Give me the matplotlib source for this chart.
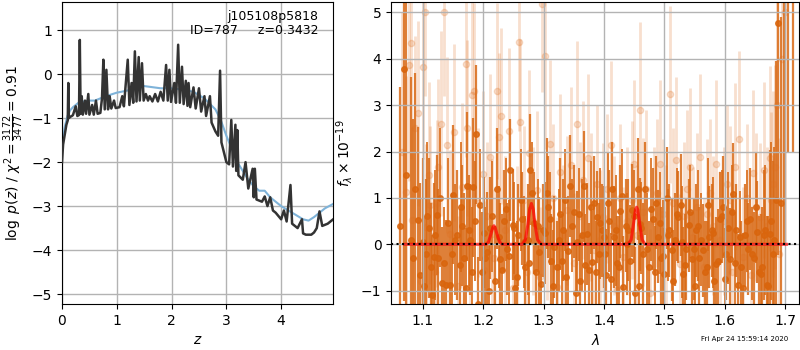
import matplotlib
matplotlib.use('Agg')
import matplotlib.pyplot as plt
import numpy as np

# ---- left panel: log p(z) and chi2 curve ----
z_pz = [0.0, 0.02, 0.04, 0.06, 0.08, 0.105, 0.115, 0.125, 0.15, 0.18, 0.2, 0.25, 0.28, 0.31, 0.325, 0.34,
        0.36, 0.38, 0.42, 0.44, 0.48, 0.5, 0.55, 0.58, 0.62, 0.65, 0.7, 0.73, 0.755, 0.78, 0.81, 0.84,
        0.87, 0.9, 0.95, 0.98, 1.05, 1.1, 1.13, 1.2, 1.23, 1.27, 1.3, 1.33, 1.36, 1.4, 1.42, 1.46,
        1.49, 1.53, 1.57, 1.6, 1.65, 1.7, 1.75, 1.8, 1.85, 1.9, 1.93, 1.96, 1.99, 2.05, 2.08, 2.12,
        2.15, 2.19, 2.22, 2.26, 2.29, 2.31, 2.34, 2.4, 2.44, 2.5, 2.54, 2.6, 2.63, 2.7, 2.73, 2.8,
        2.85, 2.885, 2.91, 2.95, 3.0, 3.05, 3.09, 3.12, 3.165, 3.18, 3.2, 3.22, 3.3, 3.35, 3.4, 3.48,
        3.5, 3.52, 3.55, 3.65, 3.7, 3.75, 3.8, 3.85, 3.9, 4.0, 4.05, 4.1, 4.17, 4.2, 4.3, 4.38,
        4.4, 4.45, 4.55, 4.6, 4.65, 4.7, 4.75, 4.85, 4.95]
log_pz = [-2.0, -1.6, -1.45, -1.3, -1.15, -1.05, -0.2, -1.0, -0.97, -0.95, -0.93, -0.73, -0.95, -0.93, 0.78, -0.9,
          -0.5, -0.92, -0.6, -0.9, -0.45, -0.92, -0.7, -0.92, -0.6, -0.9, -0.88, -0.55, 0.33, -0.8, 0.1, -0.8,
          -0.5, -0.78, -0.6, -0.77, -0.75, -0.5, -0.73, 0.33, -0.7, -0.2, -0.65, 0.52, -0.62, 0.39, -0.6, 0.25,
          -0.6, -0.45, -0.6, -0.5, -0.62, -0.45, -0.62, -0.4, -0.6, 0.21, -0.6, 0.1, -0.63, -0.2, -0.65, 0.67,
          -0.65, 0.17, -0.68, -0.15, -0.72, -0.2, -0.75, -0.3, -0.78, -0.32, -0.85, -0.5, -0.95, -0.5, -1.1, -1.3,
          -1.4, 0.08, -1.55, -1.75, -2.0, -2.05, -1.04, -2.1, -1.15, -2.2, -1.27, -2.3, -2.4, -2.0, -2.6, -2.15,
          -2.8, -2.15, -2.85, -2.9, -2.78, -3.0, -2.8, -3.1, -3.15, -3.3, -3.1, -3.35, -2.52, -3.4, -3.5, -3.3,
          -3.62, -3.65, -3.65, -3.6, -3.5, -3.12, -3.45, -3.4, -3.3]

z_chi = [0.02, 0.05, 0.1, 0.15, 0.2, 0.3, 0.4, 0.5, 0.6, 0.7, 0.8, 1.0, 1.2, 1.5, 1.8, 2.0, 2.2, 2.4, 2.6,
         2.8, 2.9, 3.0, 3.1, 3.2, 3.3, 3.4, 3.5, 3.6, 3.7, 3.8, 4.0, 4.2, 4.4, 4.5, 4.6, 4.8, 4.95]
chi_curve = [-1.45, -1.2, -0.95, -0.82, -0.75, -0.65, -0.62, -0.6, -0.6, -0.55, -0.5, -0.42, -0.37, -0.27, -0.32,
             -0.32, -0.35, -0.4, -0.55, -0.8, -1.05, -1.4, -1.7, -2.0, -2.2, -2.4, -2.55, -2.65, -2.65, -2.8,
             -3.0, -3.15, -3.3, -3.33, -3.25, -3.05, -2.95]

# ---- right panel: spectrum ----
dark_lam = [1.063, 1.0697, 1.073, 1.080, 1.084, 1.088, 1.092, 1.095, 1.100, 1.105,
            1.110, 1.114, 1.118, 1.124, 1.126, 1.132, 1.139, 1.145, 1.151, 1.157,
            1.161, 1.165, 1.169, 1.173, 1.178, 1.183, 1.188, 1.192, 1.198, 1.202,
            1.206, 1.212, 1.219, 1.223, 1.228, 1.235, 1.240, 1.245, 1.249, 1.253,
            1.258, 1.265, 1.270, 1.274, 1.278, 1.284, 1.288, 1.293, 1.299, 1.305,
            1.308, 1.313, 1.318, 1.322, 1.328, 1.333, 1.338, 1.344, 1.350, 1.355,
            1.361, 1.367, 1.372, 1.376, 1.380, 1.384, 1.388, 1.392, 1.396, 1.400,
            1.404, 1.409, 1.414, 1.417, 1.422, 1.427, 1.432, 1.436, 1.440, 1.446,
            1.452, 1.456, 1.460, 1.464, 1.468, 1.474, 1.481, 1.486, 1.490, 1.495,
            1.500, 1.504, 1.508, 1.512, 1.518, 1.523, 1.527, 1.531, 1.536, 1.540,
            1.545, 1.549, 1.553, 1.558, 1.564, 1.570, 1.574, 1.578, 1.582, 1.586,
            1.592, 1.597, 1.602, 1.608, 1.614, 1.618, 1.622, 1.627, 1.633, 1.638,
            1.642, 1.648, 1.653, 1.657, 1.661, 1.665, 1.669, 1.674, 1.679, 1.685,
            1.688, 1.693, 1.698, 1.705, 1.712]
dark_flux = [0.4, 3.78, 1.5, 0.1, -0.3, 1.2, 0.52, -0.67, 0.05, -0.2,
             0.35, -0.5, -0.27, 0.63, -0.3, -0.83, -0.88, -0.88, 1.07, 0.2,
             -0.45, 0.4, -0.29, 1.25, 0.1, 1.23, 2.37, -1.28, -0.6, 0.25,
             -0.17, 0.35, -0.8, 1.2, -0.32, 0.5, -0.1, 1.61, 0.42, -0.94,
             0.2, 0.55, -0.49, 0.1, 1.61, 0.45, -0.6, -0.17, 0.3, 1.1,
             0.8, -0.35, -0.06, -0.49, 0.65, 0.3, -0.7, 1.25, 0.7, 0.05,
             -0.8, 1.25, 0.23, -0.55, -0.38, 0.9, 0.59, -0.2, 0.3, 0.15,
             -0.67, 0.5, 1.2, 0.16, -0.4, 0.71, -0.92, 0.4, 0.3, 0.73,
             -1.06, 1.2, 0.43, -0.2, 1.2, -0.5, 0.55, 0.9, 0.16, -0.3,
             -0.65, 0.99, 0.3, -0.13, 0.1, 0.59, 0.85, -0.63, -0.1, 0.41,
             -0.31, -0.1, 0.3, -0.3, -0.13, -0.49, 0.15, 0.3, -0.8, -0.42,
             0.55, 0.8, -0.2, -0.31, 1.09, 0.3, -0.88, -0.5, 0.19, -0.1,
             0.55, -0.3, 0.27, -0.6, -0.49, 0.2, -0.88, 0.23, -0.2, 0.96,
             4.76, 0.89, 6.0, 8.0, 7.0]
dark_err = [3.0, 5.0, 6.0, 3.5, 3.0, 2.5, 2.0, 2.0, 1.8, 1.6,
            1.5, 1.4, 1.6, 1.3, 1.5, 1.2, 1.4, 1.3, 1.5, 1.4,
            1.2, 1.3, 1.4, 1.6, 1.2, 1.5, 1.5, 1.0, 1.3, 1.2,
            1.3, 1.1, 1.2, 1.3, 1.2, 1.1, 1.0, 1.1, 1.2, 1.0,
            1.1, 1.0, 1.1, 1.2, 1.2, 1.1, 1.0, 1.2, 1.0, 1.2,
            1.1, 1.0, 1.1, 1.0, 1.2, 1.1, 1.0, 1.1, 1.0, 1.1,
            1.0, 1.2, 1.1, 1.0, 1.1, 1.0, 1.0, 1.1, 1.0, 1.1,
            1.0, 1.1, 1.0, 1.1, 1.0, 1.0, 1.1, 1.0, 1.1, 1.0,
            1.0, 1.1, 1.0, 1.1, 1.0, 1.0, 1.1, 1.0, 1.0, 1.1,
            1.0, 1.1, 1.0, 1.1, 1.0, 1.0, 1.1, 1.0, 1.1, 1.0,
            1.0, 1.1, 1.0, 1.1, 1.0, 1.0, 1.1, 1.0, 1.1, 1.0,
            1.0, 1.1, 1.0, 1.1, 1.1, 1.0, 1.1, 1.0, 1.1, 1.0,
            1.1, 1.0, 1.1, 1.2, 1.3, 1.4, 1.5, 1.8, 2.0, 3.0,
            5.0, 4.0, 6.0, 6.0, 5.0]

# second set of dark pixels between the ones above
dark2_lam = [1.102, 1.108, 1.116, 1.121, 1.129, 1.136, 1.142, 1.148, 1.154, 1.163,
             1.171, 1.176, 1.181, 1.186, 1.195, 1.204, 1.209, 1.215, 1.226, 1.232,
             1.238, 1.243, 1.251, 1.256, 1.262, 1.267, 1.276, 1.281, 1.291, 1.296,
             1.302, 1.311, 1.316, 1.325, 1.331, 1.336, 1.341, 1.347, 1.353, 1.358,
             1.364, 1.369, 1.378, 1.386, 1.394, 1.402, 1.407, 1.412, 1.420, 1.425,
             1.430, 1.438, 1.443, 1.449, 1.458, 1.462, 1.471, 1.477, 1.484, 1.493,
             1.498, 1.506, 1.515, 1.521, 1.529, 1.534, 1.543, 1.551, 1.556, 1.561,
             1.567, 1.572, 1.580, 1.589, 1.595, 1.600, 1.605, 1.611, 1.616, 1.625,
             1.630, 1.636, 1.645, 1.651, 1.659, 1.667, 1.672, 1.677, 1.682]
dark2_flux = [-0.9, 0.6, -1.1, 0.2, 1.0, -0.4, 0.45, -0.2, 0.1, 0.8,
              -0.95, 0.3, -0.6, 0.5, 0.85, -0.3, -1.0, 0.6, 0.15, -0.55,
              0.75, -0.25, 0.35, -0.7, 0.95, 0.05, -0.4, 1.1, 0.4, -0.85,
              0.25, 0.55, -0.9, 0.1, -0.35, 0.95, -0.15, 0.4, -1.05, 0.65,
              0.2, -0.45, 0.8, -0.6, 0.45, -0.2, 0.9, -0.75, 0.3, -0.5,
              1.05, 0.0, -0.35, 0.6, -0.9, 0.35, -0.1, 0.75, -0.6, 0.45,
              -0.25, 0.2, -0.8, 0.65, 0.05, -0.45, 0.7, -0.9, 0.4, 0.1,
              -0.6, 0.85, 0.25, -0.35, 0.6, -0.75, 0.35, 0.7, -0.4, 0.15,
              -0.95, 0.5, -0.2, 0.8, -0.65, 0.3, -0.9, 0.5, 0.1]
dark2_err = [1.5, 1.6, 1.3, 1.4, 1.5, 1.2, 1.4, 1.3, 1.2, 1.4,
             1.3, 1.2, 1.4, 1.3, 1.2, 1.1, 1.3, 1.2, 1.1, 1.2,
             1.1, 1.2, 1.0, 1.2, 1.1, 1.0, 1.2, 1.1, 1.0, 1.2,
             1.1, 1.0, 1.2, 1.1, 1.0, 1.1, 1.2, 1.0, 1.1, 1.0,
             1.2, 1.1, 1.0, 1.1, 1.2, 1.0, 1.1, 1.0, 1.2, 1.1,
             1.0, 1.1, 1.2, 1.0, 1.1, 1.0, 1.2, 1.1, 1.0, 1.1,
             1.2, 1.0, 1.1, 1.0, 1.2, 1.1, 1.0, 1.1, 1.2, 1.0,
             1.1, 1.0, 1.2, 1.1, 1.0, 1.1, 1.2, 1.0, 1.1, 1.0,
             1.2, 1.1, 1.0, 1.2, 1.3, 1.4, 1.5, 1.7, 2.0]

light_lam = [1.066, 1.073, 1.077, 1.080, 1.082, 1.087, 1.093, 1.098, 1.101, 1.104,
             1.106, 1.110, 1.113, 1.120, 1.124, 1.126, 1.130, 1.135, 1.140, 1.146,
             1.152, 1.158, 1.165, 1.172, 1.173, 1.179, 1.182, 1.185, 1.192, 1.200,
             1.201, 1.207, 1.212, 1.214, 1.218, 1.223, 1.227, 1.229, 1.237, 1.243,
             1.249, 1.256, 1.259, 1.261, 1.267, 1.272, 1.276, 1.282, 1.289, 1.295,
             1.298, 1.303, 1.305, 1.311, 1.316, 1.322, 1.328, 1.333, 1.339, 1.345,
             1.350, 1.355, 1.360, 1.366, 1.373, 1.378, 1.383, 1.388, 1.393, 1.399,
             1.405, 1.412, 1.416, 1.421, 1.426, 1.432, 1.438, 1.446, 1.450, 1.455,
             1.460, 1.465, 1.470, 1.476, 1.482, 1.487, 1.493, 1.498, 1.503, 1.509,
             1.515, 1.520, 1.526, 1.532, 1.538, 1.543, 1.548, 1.554, 1.559, 1.565,
             1.570, 1.576, 1.581, 1.585, 1.592, 1.598, 1.603, 1.608, 1.612, 1.617,
             1.623, 1.630, 1.636, 1.644, 1.647, 1.652, 1.658, 1.664, 1.669, 1.674,
             1.677, 1.680, 1.683, 1.687, 1.690, 1.695, 1.700]
light_flux = [2.0, 1.13, 3.86, 4.33, 0.52, 2.5, 2.82, -0.8, 3.83, 5.0,
              0.37, 1.5, 0.84, -0.6, 0.88, 1.67, 2.6, 5.0, 2.14, 0.23,
              2.41, -0.9, 1.24, 3.88, 2.5, 0.3, 3.22, 3.3, 0.9, 1.51,
              -0.56, 0.6, 1.88, 0.23, -0.3, 3.31, 2.32, 2.76, 0.3, 2.44,
              -0.94, 0.09, 4.35, 2.63, 0.95, -0.6, 1.96, 0.5, 1.17, -0.7,
              5.18, 4.06, 0.3, 2.17, 1.0, -0.92, 1.55, 0.2, 0.73, 1.7,
              -0.4, 2.59, 0.6, 1.38, 1.87, 0.8, -0.13, 1.3, 0.1, 0.59,
              1.2, 2.15, 0.4, -0.99, 1.0, -0.27, 0.5, 0.95, 1.74, 0.2,
              2.89, 0.7, 1.2, -1.06, 0.5, 1.1, 1.74, 0.66, 0.2, 3.23,
              0.9, 1.81, -0.42, 0.6, 1.2, 1.67, 0.16, 0.8, 1.88, -0.5,
              0.66, 1.1, 0.4, 1.74, 0.09, 0.5, 1.3, 0.95, -0.6, 1.67,
              2.26, -0.27, 1.0, -0.67, 1.53, 0.8, 0.59, 1.6, 0.4, 1.85,
              0.95, 1.3, 1.67, 3.0, -0.2, 4.0, 5.0]
light_err = [3.0, 2.5, 2.5, 2.5, 2.0, 2.0, 2.0, 1.8, 2.0, 1.8,
             1.8, 2.0, 1.7, 1.5, 1.8, 1.9, 2.0, 1.8, 1.9, 1.8,
             1.9, 1.5, 1.8, 2.0, 1.9, 1.7, 2.0, 1.9, 1.6, 1.8,
             1.5, 1.6, 1.8, 1.6, 1.5, 1.9, 1.8, 1.9, 1.6, 1.8,
             1.5, 1.6, 1.9, 1.8, 1.6, 1.5, 1.8, 1.6, 1.7, 1.5,
             1.9, 2.0, 1.5, 1.8, 1.6, 1.5, 1.7, 1.5, 1.6, 1.7,
             1.5, 1.8, 1.6, 1.7, 1.8, 1.6, 1.5, 1.7, 1.5, 1.6,
             1.6, 1.8, 1.5, 1.4, 1.6, 1.5, 1.6, 1.7, 1.8, 1.5,
             1.9, 1.6, 1.7, 1.4, 1.6, 1.6, 1.8, 1.6, 1.5, 1.9,
             1.6, 1.8, 1.5, 1.6, 1.7, 1.7, 1.5, 1.6, 1.8, 1.5,
             1.6, 1.6, 1.5, 1.8, 1.5, 1.6, 1.7, 1.6, 1.5, 1.8,
             1.9, 1.5, 1.6, 1.5, 1.8, 1.6, 1.6, 1.9, 1.7, 2.0,
             1.9, 2.0, 2.2, 3.0, 2.5, 4.0, 5.0]

model_lam = [1.070, 1.205, 1.209, 1.213, 1.216, 1.218, 1.220, 1.223, 1.227, 1.231,
             1.265, 1.270, 1.274, 1.277, 1.280, 1.283, 1.286, 1.290, 1.296,
             1.440, 1.445, 1.449, 1.452, 1.454, 1.456, 1.459, 1.463, 1.468, 1.702]
model_flux = [0.0, 0.0, 0.05, 0.22, 0.36, 0.4, 0.36, 0.22, 0.06, 0.0,
              0.0, 0.1, 0.42, 0.75, 0.88, 0.75, 0.42, 0.1, 0.0,
              0.0, 0.1, 0.45, 0.74, 0.8, 0.74, 0.45, 0.1, 0.0, 0.0]

fig = plt.figure(figsize=(8, 3.5), dpi=100)
ax1 = fig.add_axes([0.0775, 0.131, 0.339, 0.863])
ax2 = fig.add_axes([0.489, 0.131, 0.510, 0.863])

# left
ax1.plot(z_chi, chi_curve, color='#7fb3d9', lw=1.5, zorder=2)
ax1.plot(z_pz, log_pz, color='0.2', lw=1.8, zorder=3)
ax1.set_xlim(0, 4.95)
ax1.set_ylim(-5.23, 1.64)
ax1.set_xticks([0, 1, 2, 3, 4])
ax1.set_yticks([-5, -4, -3, -2, -1, 0, 1])
ax1.grid(color='0.7', lw=1)
ax1.set_xlabel(r'$z$', fontsize=10)
ax1.set_ylabel(r'$\log\ p(z)$ / $\chi^2=\frac{3172}{3477}=0.91$', fontsize=10)
ax1.text(0.945, 0.975, 'j105108p5818\nID=787     z=0.3432', transform=ax1.transAxes,
         ha='right', va='top', fontsize=9, linespacing=1.1)

# right
ax2.errorbar(light_lam, light_flux, yerr=light_err, fmt='o', color='#e07020', alpha=0.22,
             ms=4.5, elinewidth=2, ecolor='#e07020', zorder=1)
ax2.errorbar(dark2_lam, dark2_flux, yerr=dark2_err, fmt='o', color='#d9650d', alpha=0.85,
             ms=4.0, elinewidth=1.4, ecolor='#d96a16', zorder=1)
ax2.errorbar(dark_lam, dark_flux, yerr=dark_err, fmt='o', color='#d9650d', alpha=0.85,
             ms=4.0, elinewidth=1.6, ecolor='#d96a16', zorder=1)
ax2.plot(model_lam, model_flux, color='red', alpha=0.7, lw=2.2, zorder=3)
ax2.axhline(0, color='k', ls=':', lw=1.5, zorder=4)
ax2.set_xlim(1.048, 1.723)
ax2.set_ylim(-1.29, 5.22)
ax2.set_xticks([1.1, 1.2, 1.3, 1.4, 1.5, 1.6, 1.7])
ax2.set_yticks([-1, 0, 1, 2, 3, 4, 5])
ax2.grid(color='0.7', lw=1)
ax2.set_xlabel(r'$\lambda$', fontsize=10)
ax2.set_ylabel(r'$f_\lambda\times10^{-19}$', fontsize=10)

for ax in (ax1, ax2):
    ax.tick_params(labelsize=10)

fig.text(0.985, 0.03, 'Fri Apr 24 15:59:14 2020', ha='right', va='center', fontsize=5)

plt.savefig('out.png', dpi=100)
